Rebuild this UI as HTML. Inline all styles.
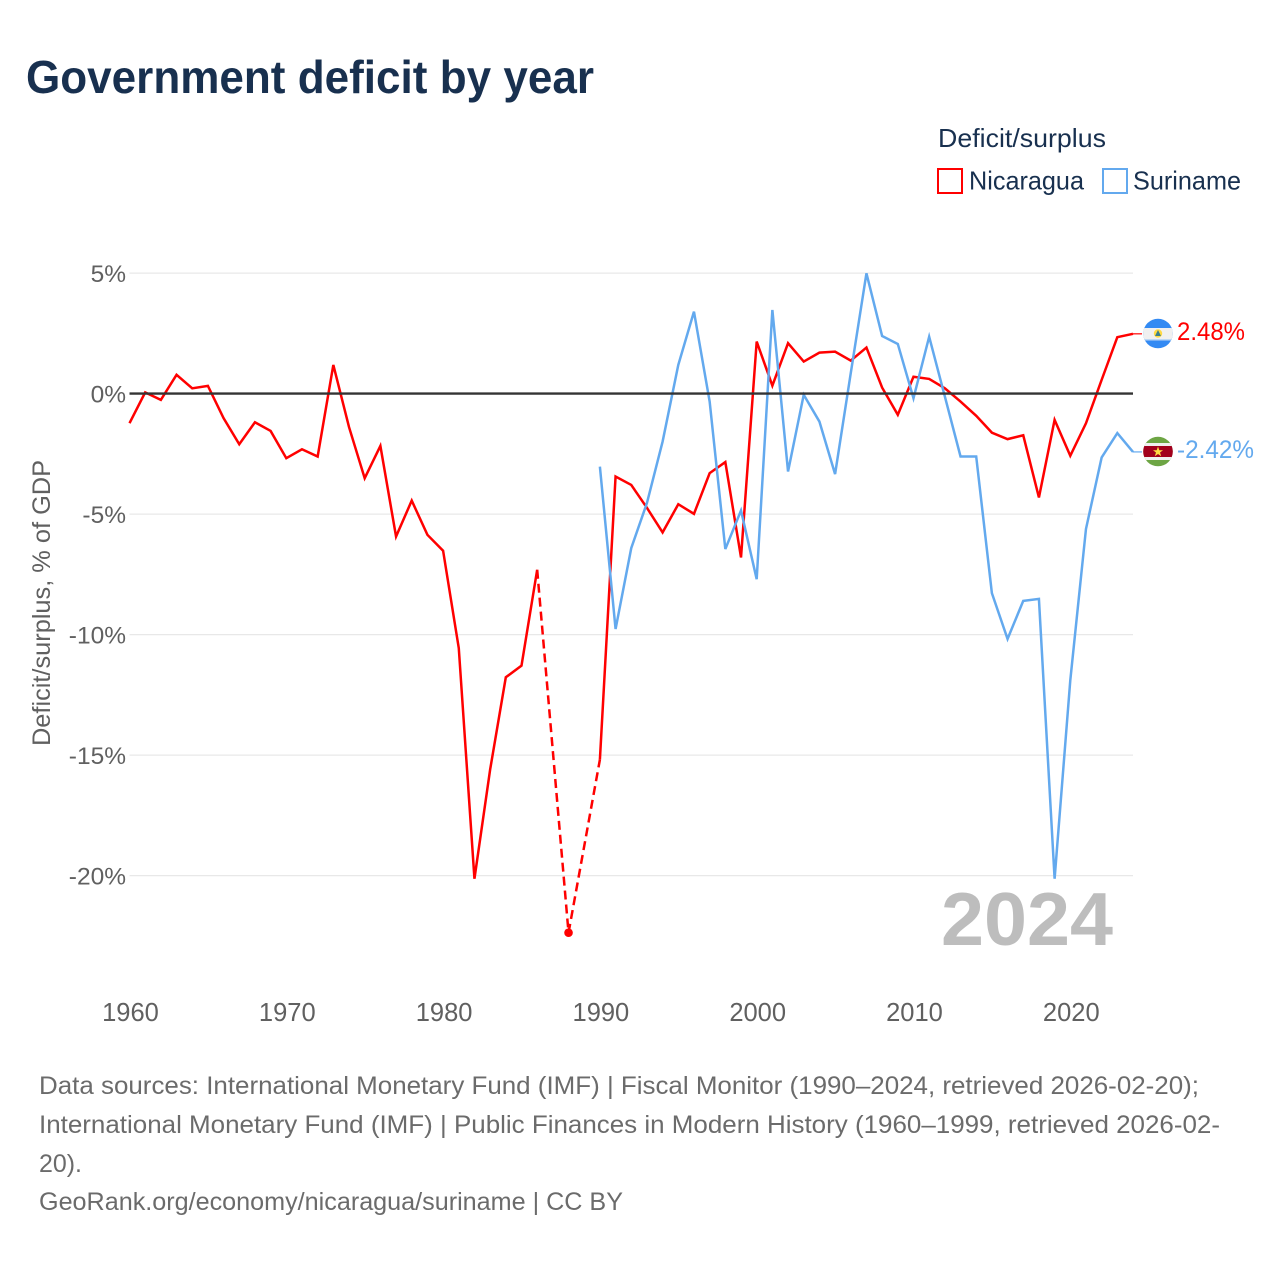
<!DOCTYPE html>
<html lang="en">
<head>
<meta charset="utf-8">
<title>Government deficit by year</title>
<style>
  html, body { margin: 0; padding: 0; background: #fff; }
  svg { display: block; font-family: "Liberation Sans", sans-serif; }
</style>
</head>
<body>
<svg id="chart" width="1280" height="1280" viewBox="0 0 1280 1280" xmlns="http://www.w3.org/2000/svg">
  <rect x="0" y="0" width="1280" height="1280" fill="#ffffff"/>
  <text x="26" y="93" font-size="46" font-weight="700" fill="#18304f" textLength="568" lengthAdjust="spacingAndGlyphs">Government deficit by year</text>

  <g>
    <text x="938" y="147" font-size="26" fill="#18304f" textLength="168" lengthAdjust="spacingAndGlyphs">Deficit/surplus</text>
    <rect x="938" y="169" width="24" height="24" fill="none" stroke="#ff0000" stroke-width="2"/>
    <text x="969" y="189.5" font-size="26" fill="#18304f" textLength="115" lengthAdjust="spacingAndGlyphs">Nicaragua</text>
    <rect x="1103" y="169" width="24" height="24" fill="none" stroke="#63a9ee" stroke-width="2"/>
    <text x="1133" y="189.5" font-size="26" fill="#18304f" textLength="108" lengthAdjust="spacingAndGlyphs">Suriname</text>
  </g>

  <g id="grid"></g>
  <g id="y-labels"></g>
  <g id="x-labels"></g>
  <text transform="translate(50 603) rotate(-90)" text-anchor="middle" font-size="25" fill="#606060" textLength="286" lengthAdjust="spacingAndGlyphs">Deficit/surplus, % of GDP</text>
  <text x="941" y="945" font-size="75" font-weight="700" fill="#bdbdbd" textLength="172" lengthAdjust="spacingAndGlyphs">2024</text>

  <g id="series"></g>
  <g id="zero"></g>

  <defs>
    <clipPath id="flag-clip-ni"><circle cx="1158" cy="333.5" r="14.8"/></clipPath>
    <clipPath id="flag-clip-sr"><circle cx="1158" cy="451.5" r="14.8"/></clipPath>
  </defs>
  <g clip-path="url(#flag-clip-ni)">
    <rect x="1143" y="318" width="30" height="32" fill="#338af3"/>
    <rect x="1143" y="328" width="30" height="11" fill="#f0f0f0"/>
    <rect x="1143" y="339" width="30" height="1.5" fill="#bcd7f5"/>
    <circle cx="1158" cy="333.5" r="4.2" fill="#ffda44"/>
    <polygon points="1158,330 1161,336 1155,336" fill="#3a7f8c"/>
  </g>
  <g clip-path="url(#flag-clip-sr)">
    <rect x="1143" y="436" width="30" height="32" fill="#6da544"/>
    <rect x="1143" y="443" width="30" height="17" fill="#f0f0f0"/>
    <rect x="1143" y="446" width="30" height="11" fill="#a2001d"/>
    <polygon points="1158,446.5 1159.3,450.2 1163,450.2 1160,452.5 1161.2,456.2 1158,454 1154.8,456.2 1156,452.5 1153,450.2 1156.7,450.2" fill="#ffda44"/>
  </g>
  <text x="1177" y="340" font-size="25" fill="#ff0000" textLength="68" lengthAdjust="spacingAndGlyphs">2.48%</text>
  <text x="1177" y="458" font-size="25" fill="#63a9ee" textLength="77" lengthAdjust="spacingAndGlyphs">-2.42%</text>

  <g font-size="25" fill="#6b6b6b">
    <text x="39" y="1094" textLength="1160" lengthAdjust="spacingAndGlyphs">Data sources: International Monetary Fund (IMF) | Fiscal Monitor (1990–2024, retrieved 2026-02-20);</text>
    <text x="39" y="1133" textLength="1181" lengthAdjust="spacingAndGlyphs">International Monetary Fund (IMF) | Public Finances in Modern History (1960–1999, retrieved 2026-02-</text>
    <text x="39" y="1172" textLength="43" lengthAdjust="spacingAndGlyphs">20).</text>
    <text x="39" y="1210" textLength="584" lengthAdjust="spacingAndGlyphs">GeoRank.org/economy/nicaragua/suriname | CC BY</text>
  </g>
</svg>
<script>
const firstYear = 1960;
const lastYear = 2024;
const yTickValues = [5, 0, -5, -10, -15, -20];
const yTickLabels = ["5%", "0%", "-5%", "-10%", "-15%", "-20%"];
const xTickLabels = ["1960", "1970", "1980", "1990", "2000", "2010", "2020"];
// One value per year from 1960 to 2024; null = no data.
const nicaraguaValues = [
  -1.23, 0.05, -0.26, 0.78, 0.22, 0.32, -1.02, -2.10, -1.19, -1.55,
  -2.68, -2.31, -2.61, 1.19, -1.39, -3.51, -2.17, -5.93, -4.44, -5.86,
  -6.52, -10.56, -20.13, -15.6, -11.77, -11.29, -7.31, null, -22.37, null,
  -15.19, -3.44, -3.79, -4.74, -5.76, -4.59, -4.99, -3.30, -2.84, -6.80,
  2.16, 0.33, 2.09, 1.33, 1.70, 1.74, 1.37, 1.91, 0.25, -0.88,
  0.70, 0.61, 0.22, -0.33, -0.92, -1.62, -1.89, -1.73, -4.31, -1.09,
  -2.58, -1.23, 0.57, 2.34, 2.48
];
const surinameValues = [
  null, null, null, null, null, null, null, null, null, null,
  null, null, null, null, null, null, null, null, null, null,
  null, null, null, null, null, null, null, null, null, null,
  -3.03, -9.77, -6.41, -4.54, -1.99, 1.19, 3.40, -0.33, -6.45, -4.85,
  -7.70, 3.47, -3.23, -0.05, -1.16, -3.34, 0.85, 4.99, 2.39, 2.06,
  -0.19, 2.36, -0.12, -2.61, -2.61, -8.28, -10.18, -8.60, -8.52, -20.13,
  -11.90, -5.62, -2.65, -1.64, -2.42
];

const NS = "http://www.w3.org/2000/svg";
const plotLeft = 129.5, plotRight = 1133;
function xScale(year) {
  return plotLeft + (year - firstYear) * (plotRight - plotLeft) / (lastYear - firstYear);
}
function yScale(value) {
  return 393.6 - value * 24.1;
}
function make(tag, attrs, parent) {
  const el = document.createElementNS(NS, tag);
  for (const k in attrs) el.setAttribute(k, attrs[k]);
  parent.appendChild(el);
  return el;
}

const gridGroup = document.getElementById("grid");
const yLabelGroup = document.getElementById("y-labels");
yTickValues.forEach(function (v, i) {
  if (v !== 0) {
    const line = make("line", {x1: plotLeft, x2: plotRight, y1: yScale(v), y2: yScale(v), stroke: "#e8e8e8", "stroke-width": 1.2}, gridGroup);
    
    
  }
  const label = make("text", {x: 126, y: yScale(v) + 9, "text-anchor": "end", "font-size": 24.5, fill: "#606060"}, yLabelGroup);
  
  
  label.textContent = yTickLabels[i];
});

const xLabelGroup = document.getElementById("x-labels");
xTickLabels.forEach(function (t) {
  const label = make("text", {x: xScale(Number(t)) + 1, y: 1021, "text-anchor": "middle", "font-size": 25.5, fill: "#606060"}, xLabelGroup);
  
  
  label.textContent = t;
});

const seriesGroup = document.getElementById("series");
function drawSeries(values, color, name) {
  let previous = null;
  let run = [];
  function flushRun() {
    if (run.length > 1) {
      const path = make("polyline", {points: run.join(" "), fill: "none", stroke: color, "stroke-width": 2.5, "stroke-linejoin": "miter"}, seriesGroup);
      
      
    }
    run = [];
  }
  values.forEach(function (v, i) {
    if (v === null) return;
    const year = firstYear + i;
    const px = xScale(year), py = yScale(v);
    if (previous && year - previous.year > 1) {
      flushRun();
      const gap = make("line", {x1: previous.px, y1: previous.py, x2: px, y2: py, stroke: color, "stroke-width": 2.5, "stroke-dasharray": "9 5"}, seriesGroup);
      
      
    }
    const prevMissing = i === 0 || values[i - 1] === null;
    const nextMissing = i === values.length - 1 || values[i + 1] === null;
    if (prevMissing && nextMissing) {
      const dot = make("circle", {cx: px, cy: py, r: 4.3, fill: color}, seriesGroup);
      
      
    }
    run.push(px + "," + py);
    previous = {year: year, px: px, py: py};
  });
  flushRun();
  const last = previous;
  const connector = make("line", {x1: last.px, y1: last.py, x2: 1142, y2: last.py, stroke: color, "stroke-width": 1.2}, seriesGroup);
  
  
}
drawSeries(nicaraguaValues, "#ff0000", "nicaragua");
drawSeries(surinameValues, "#63a9ee", "suriname");

const zeroLine = make("line", {x1: plotLeft, x2: plotRight, y1: yScale(0), y2: yScale(0), stroke: "#333333", "stroke-width": 2.4}, document.getElementById("zero"));


</script>
</body>
</html>
